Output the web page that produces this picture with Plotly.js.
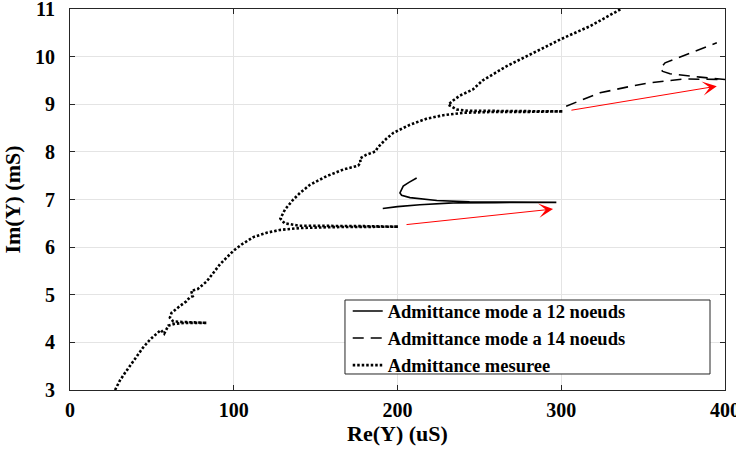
<!DOCTYPE html>
<html>
<head>
<meta charset="utf-8">
<script src="https://cdn.plot.ly/plotly-3.0.1.min.js"></script>
<style>
html,body{margin:0;padding:0;background:#fff;}
#chart svg text{font-family:'Liberation Serif' !important;font-weight:bold !important;}
</style>
</head>
<body>
<div id="chart" style="width:736px;height:452px;"></div>
<script>
// Measured admittance (Re in uS, Im in mS)
const measRe = [27.5,30.5,33.6,38.5,44.6,48.9,53.9,55.5,57.5,58.5,60,64,70,76,83.5,76,68,63,61,62,67,71,73,75,74,78,83.5,91.6,99.7,105,112,120,128,140,160,180,200.5,180,160,140,131,128.5,131.3,136.4,140.5,146.6,156.7,167,176,177.5,177,181,186.6,188,189.3,193,197.5,207.6,218,228,240,260,280,301,280,260,244,236,231,234,238,246,252,266.7,287,300,317.6,333.8,336.5];
const measIm = [3.0,3.2,3.36,3.60,3.89,4.06,4.20,4.26,4.18,4.25,4.35,4.39,4.41,4.41,4.41,4.42,4.43,4.44,4.52,4.62,4.76,4.86,4.94,4.97,5.08,5.12,5.28,5.64,5.92,6.06,6.21,6.30,6.36,6.40,6.42,6.43,6.43,6.44,6.44,6.45,6.50,6.60,6.79,7.0,7.14,7.31,7.49,7.63,7.71,7.78,7.86,7.94,8.01,8.10,8.14,8.27,8.40,8.57,8.70,8.77,8.82,8.84,8.84,8.85,8.855,8.86,8.86,8.89,8.99,9.08,9.18,9.31,9.50,9.80,10.15,10.37,10.64,10.95,11.0];

// Model, 12 nodes
const m12Re = [191,200,213.7,234,260,297,270,244,224,207.6,202.5,201.5,203.5,207,211.7];
const m12Im = [6.81,6.85,6.89,6.93,6.935,6.94,6.945,6.95,6.98,7.04,7.09,7.14,7.28,7.36,7.45];

// Model, 14 nodes
const m14Re = [303,310,323.7,340,354,374.4,390,400,384.7,372,366.4,362,360.3,363.4,374,385,395];
const m14Im = [8.96,9.06,9.24,9.36,9.45,9.53,9.53,9.52,9.57,9.61,9.64,9.69,9.74,9.87,10.01,10.15,10.29];

// Red arrows (start -> end)
const arrowStartRe = [204.6, 305.3];
const arrowStartIm = [6.47, 8.87];
const arrowEndRe = [295, 395];
const arrowEndIm = [6.80, 9.38];

const seriesNames = ['Admittance mode a 12 noeuds','Admittance mode a 14 noeuds','Admittance mesuree'];
const xTicks = [0,100,200,300,400];
const yTicks = [3,4,5,6,7,8,9,10,11];

const FAM = 'Liberation Serif';
const f = (size) => ({family:FAM, size:size, color:'#000', weight:'bold'});

const traces = [
  {x:m12Re, y:m12Im, name:seriesNames[0], mode:'lines', line:{color:'#000', width:1.6}},
  {x:m14Re, y:m14Im, name:seriesNames[1], mode:'lines', line:{color:'#000', width:1.6, dash:'11px,7px'}},
  {x:measRe, y:measIm, name:seriesNames[2], mode:'lines', line:{color:'#000', width:2.6, dash:'2.5px,2px'}}
];

const annotations = arrowEndRe.map((v,i)=>({
  x:v, y:arrowEndIm[i], ax:arrowStartRe[i], ay:arrowStartIm[i],
  xref:'x', yref:'y', axref:'x', ayref:'y',
  text:'', showarrow:true, arrowhead:3, arrowsize:2.4, arrowwidth:1, arrowcolor:'#ff0000'
}));

const axisCommon = {
  showline:true, mirror:'ticks', linecolor:'#262626', linewidth:1,
  ticks:'inside', ticklen:5, tickcolor:'#262626', tickwidth:1,
  showgrid:true, gridcolor:'#e4e4e4', gridwidth:1, zeroline:false,
  tickfont:f(20), ticklabeloverflow:'allow'
};

const layout = {
  width:736, height:452,
  margin:{l:70, r:11, t:9, b:62},
  paper_bgcolor:'#fff', plot_bgcolor:'#fff',
  font:f(18),
  showlegend:true,
  legend:{
    x:0.424, xanchor:'left', y:0.256, yanchor:'top',
    bgcolor:'rgba(0,0,0,0)', borderwidth:0,
    font:f(18.5),
    tracegroupgap:0, itemwidth:30
  },
  shapes:[{type:'rect', xref:'paper', yref:'paper', x0:0.4198, x1:0.9771, y0:0.042, y1:0.2362,
    line:{color:'#262626', width:1}, fillcolor:'#fff', layer:'above'}],
  xaxis:Object.assign({}, axisCommon, {
    range:[0,400], tickvals:xTicks, ticktext:xTicks.map(String),
    ticklabelstandoff:2,
    title:{text:'Re(Y) (uS)', font:f(22), standoff:4}
  }),
  yaxis:Object.assign({}, axisCommon, {
    range:[3,11], tickvals:yTicks, ticktext:yTicks.map(String),
    ticklabelstandoff:10,
    title:{text:'Im(Y) (mS)', font:f(22), standoff:8}
  }),
  annotations:annotations
};

Plotly.newPlot('chart', traces, layout, {displayModeBar:false, staticPlot:true});
</script>
</body>
</html>
